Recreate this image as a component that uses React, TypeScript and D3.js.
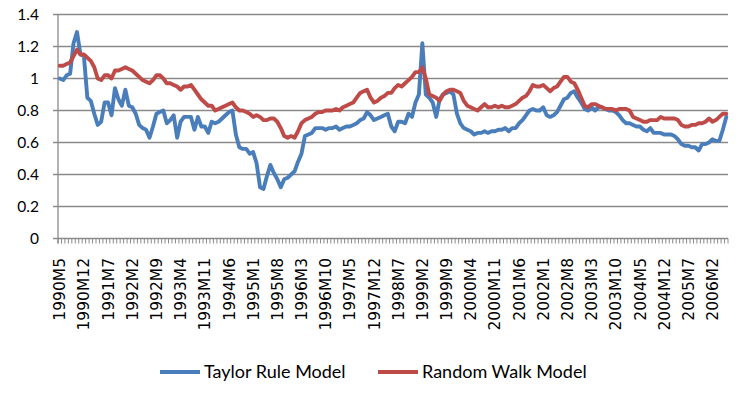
import * as d3 from 'd3'
import React from 'react'

const WIDTH = 746
const HEIGHT = 397
const PLOT = { left: 58, right: 728, top: 14.5, bottom: 238.5 }

const START_YEAR = 1990
const START_MONTH = 5
const LABEL_EVERY = 7

// monthly values, 1990M5 .. 2006M6
const taylorRule = [
  1.0, 0.99, 1.02, 1.03, 1.22, 1.29, 1.15, 1.14, 0.88, 0.86,
  0.78, 0.71, 0.73, 0.85, 0.85, 0.77, 0.94, 0.87, 0.83, 0.93,
  0.83, 0.82, 0.78, 0.71, 0.69, 0.68, 0.63, 0.7, 0.78, 0.79,
  0.8, 0.72, 0.74, 0.77, 0.63, 0.73, 0.76, 0.76, 0.76, 0.68,
  0.76, 0.7, 0.7, 0.66, 0.73, 0.72, 0.73, 0.75, 0.77, 0.79,
  0.8, 0.65, 0.57, 0.56, 0.56, 0.53, 0.54, 0.47, 0.32, 0.31,
  0.39, 0.46, 0.41, 0.37, 0.32, 0.37, 0.38, 0.4, 0.42, 0.48,
  0.53, 0.64, 0.65, 0.66, 0.69, 0.69, 0.69, 0.68, 0.69, 0.69,
  0.7, 0.68, 0.69, 0.7, 0.7, 0.71, 0.72, 0.74, 0.75, 0.79,
  0.77, 0.74, 0.75, 0.76, 0.77, 0.78, 0.7, 0.67, 0.73, 0.73,
  0.72, 0.78, 0.76, 0.85, 0.9, 1.22, 0.9, 0.88, 0.85, 0.76,
  0.87, 0.9, 0.91, 0.92, 0.9, 0.78, 0.72, 0.69, 0.68, 0.67,
  0.65, 0.66, 0.66, 0.67, 0.66, 0.67, 0.67, 0.68, 0.68, 0.69,
  0.67, 0.69, 0.69, 0.72, 0.74, 0.77, 0.8, 0.81, 0.8, 0.8,
  0.82, 0.77, 0.76, 0.77, 0.79, 0.83, 0.87, 0.88, 0.91, 0.92,
  0.88, 0.85, 0.81, 0.8, 0.82, 0.8, 0.82, 0.82, 0.81, 0.8,
  0.8, 0.79, 0.77, 0.74, 0.72, 0.72, 0.71, 0.7, 0.7, 0.68,
  0.67, 0.69, 0.66, 0.66, 0.66, 0.65, 0.65, 0.65, 0.64, 0.62,
  0.59, 0.58, 0.58, 0.57, 0.57, 0.55, 0.59, 0.59, 0.6, 0.62,
  0.61, 0.61, 0.68, 0.76,
]

const randomWalk = [
  1.08, 1.08, 1.09, 1.1, 1.14, 1.18, 1.15, 1.15, 1.13, 1.11,
  1.07, 1.0, 0.99, 1.02, 1.02, 1.0, 1.05, 1.05, 1.06, 1.07,
  1.06, 1.05, 1.03, 1.01, 0.99, 0.98, 0.97, 0.99, 1.02, 1.02,
  1.0, 0.97, 0.97, 0.96, 0.95, 0.93, 0.95, 0.95, 0.96, 0.93,
  0.9, 0.87, 0.85, 0.83, 0.83, 0.8, 0.81, 0.82, 0.83, 0.84,
  0.85, 0.82, 0.8, 0.8, 0.79, 0.78, 0.76, 0.77, 0.76, 0.74,
  0.74, 0.75, 0.75, 0.73, 0.69, 0.64, 0.63, 0.64, 0.63, 0.67,
  0.72, 0.74, 0.75, 0.76, 0.78, 0.79, 0.79, 0.8, 0.8, 0.8,
  0.81, 0.8, 0.82, 0.83, 0.84, 0.85, 0.88, 0.91, 0.92, 0.93,
  0.88, 0.85, 0.86, 0.88, 0.89, 0.91, 0.91, 0.94, 0.96, 0.95,
  0.97, 0.99, 1.01, 1.04, 1.04, 1.07, 1.0, 0.9, 0.89, 0.88,
  0.86, 0.9, 0.92, 0.93, 0.93, 0.92, 0.91, 0.86, 0.83, 0.82,
  0.81, 0.8, 0.82, 0.84, 0.82, 0.82, 0.83, 0.82, 0.83, 0.82,
  0.82, 0.83, 0.84, 0.86, 0.88, 0.89, 0.92, 0.96, 0.95, 0.95,
  0.96, 0.94, 0.92, 0.94, 0.95, 0.98, 1.01, 1.01, 0.98, 0.97,
  0.93, 0.88, 0.83, 0.82, 0.84, 0.84, 0.83, 0.82, 0.81, 0.81,
  0.81, 0.8, 0.81, 0.81, 0.81, 0.8, 0.76, 0.75, 0.74, 0.73,
  0.73, 0.74, 0.74, 0.74, 0.76, 0.75, 0.75, 0.75, 0.75, 0.74,
  0.71, 0.7, 0.7, 0.71, 0.71, 0.72, 0.72, 0.73, 0.75, 0.73,
  0.74, 0.76, 0.78, 0.78,
]

const yTicks = [0, 0.2, 0.4, 0.6, 0.8, 1, 1.2, 1.4]

const series = [
  { name: 'Taylor Rule Model', values: taylorRule, color: '#4a7ebb' },
  { name: 'Random Walk Model', values: randomWalk, color: '#be4b48' },
]

// category labels like 1990M5
const months = taylorRule.map((_, i) => {
  const m = START_MONTH - 1 + i
  return `${START_YEAR + Math.floor(m / 12)}M${(m % 12) + 1}`
})

const AXIS_FONT = 'Lato, "Open Sans", sans-serif'
const GRID = '#8a8a8a'

export default function App() {
  const x = d3.scaleBand().domain(months).range([PLOT.left, PLOT.right])
  const y = d3.scaleLinear().domain([0, 1.4]).range([PLOT.bottom, PLOT.top])
  const bw = x.bandwidth()

  const line = d3
    .line<number>()
    .x((d, i) => x(months[i]) + bw / 2)
    .y(d => y(d))

  const boundaries = d3.range(months.length + 1).map(i => PLOT.left + i * bw)
  const labelled = months.filter((d, i) => i % LABEL_EVERY === 0)

  return (
    <svg width={WIDTH} height={HEIGHT} style={{ display: 'block', background: '#fff' }}>
      <style>{'body{margin:0}'}</style>

      {/* value grid */}
      <g>
        {yTicks.map(t => (
          <g key={t}>
            <line x1={PLOT.left - 5} x2={PLOT.right} y1={y(t)} y2={y(t)} stroke={GRID} strokeWidth={1.3} />
            <text
              x={39}
              y={y(t)}
              dy="0.35em"
              textAnchor="end"
              fontFamily={AXIS_FONT}
              fontSize={15.5}
              fill="#000"
            >
              {d3.format('')(+t.toFixed(1))}
            </text>
          </g>
        ))}
      </g>

      {/* axes */}
      <line x1={PLOT.left} x2={PLOT.left} y1={PLOT.top} y2={PLOT.bottom + 5} stroke={GRID} strokeWidth={1.3} />
      <g>
        {boundaries.map((bx, i) => (
          <line key={i} x1={bx} x2={bx} y1={PLOT.bottom} y2={PLOT.bottom + 5} stroke={GRID} strokeWidth={1} />
        ))}
      </g>
      <g>
        {labelled.map(m => (
          <text
            key={m}
            transform={`translate(${x(m) + bw / 2},258) rotate(-90)`}
            dy="0.36em"
            textAnchor="end"
            fontFamily='"DejaVu Sans", sans-serif'
            fontSize={15.5}
            fill="#000"
          >
            {m}
          </text>
        ))}
      </g>

      {/* series */}
      <g fill="none" strokeWidth={3.9} strokeLinejoin="round" strokeLinecap="round">
        {series.map(s => (
          <path key={s.name} d={line(s.values)} stroke={s.color} />
        ))}
      </g>

      {/* legend */}
      <g>
        {series.map((s, i) => {
          const lx = i === 0 ? 160 : 378
          return (
            <g key={s.name} transform={`translate(${lx},372)`}>
              <line x1={0} x2={40} y1={0} y2={0} stroke={s.color} strokeWidth={3.9} />
              <text x={44} dy="0.35em" fontFamily={AXIS_FONT} fontSize={18} fill="#000">
                {s.name}
              </text>
            </g>
          )
        })}
      </g>
    </svg>
  )
}
